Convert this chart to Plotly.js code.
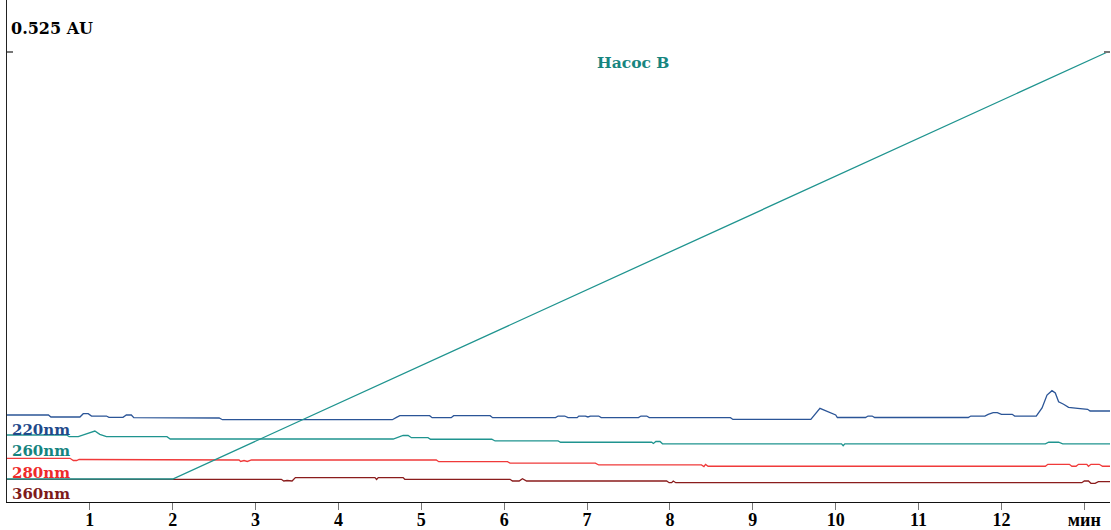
<!DOCTYPE html>
<html>
<head>
<meta charset="utf-8">
<script src="https://cdn.plot.ly/plotly-3.0.1.min.js"></script>
<style>html,body{margin:0;padding:0;background:#fff;}#chart{width:1111px;height:530px;}</style>
</head>
<body>
<div id="chart"></div>
<script>
// ---- data (time in min, absorbance in AU) ----
const t220 = [0,0.5,0.53,0.88,0.92,0.98,1.02,1.2,1.23,1.4,1.44,1.5,1.53,2.56,2.6,4.65,4.7,4.74,5.1,5.13,5.36,5.39,5.83,5.86,6.62,6.65,6.73,6.77,6.88,6.9,6.98,7.01,7.04,7.14,7.17,7.62,7.65,7.72,7.75,8.73,8.76,9.7,9.81,9.9,10.0,10.02,10.36,10.39,10.44,10.47,11.6,11.63,11.8,11.84,11.9,11.95,12.0,12.13,12.16,12.42,12.49,12.55,12.61,12.65,12.69,12.75,12.81,12.92,13.04,13.07,13.31];
const a220 = [0.1015,0.1015,0.0992,0.0992,0.1030,0.1030,0.1003,0.1003,0.0988,0.0988,0.1015,0.1015,0.0984,0.0980,0.0960,0.0960,0.0988,0.1007,0.1007,0.0984,0.0984,0.1007,0.1007,0.0984,0.0984,0.1003,0.1003,0.0984,0.0984,0.1003,0.1003,0.0992,0.1003,0.1003,0.0984,0.0984,0.1003,0.1003,0.0984,0.0984,0.0963,0.0963,0.1093,0.1054,0.1015,0.0986,0.0986,0.1003,0.1003,0.0986,0.0986,0.1003,0.1003,0.1023,0.1042,0.1042,0.1023,0.1023,0.1003,0.1003,0.1097,0.1248,0.1299,0.1272,0.1170,0.1140,0.1105,0.1093,0.1082,0.1062,0.1062];

const t260 = [0,0.72,0.75,0.86,0.94,1.06,1.12,1.2,1.93,1.97,4.66,4.7,4.78,4.84,4.88,5.08,5.11,5.85,5.89,6.65,6.68,7.78,7.8,7.83,7.88,7.91,10.07,10.09,10.11,12.53,12.57,12.69,12.74,13.31];
const a260 = [0.0782,0.0782,0.0762,0.0762,0.0790,0.0828,0.0790,0.0762,0.0762,0.0735,0.0735,0.0750,0.0776,0.0776,0.0750,0.0750,0.0732,0.0732,0.0712,0.0712,0.0697,0.0697,0.0683,0.0706,0.0706,0.0679,0.0679,0.0657,0.0679,0.0679,0.0697,0.0697,0.0679,0.0679];

const t280 = [0,0.76,0.8,0.84,0.87,1.1,1.13,2.8,2.82,2.86,2.9,2.95,5.18,5.21,6.04,6.07,7.1,7.14,8.38,8.41,8.43,8.46,12.53,12.56,12.82,12.85,12.9,12.93,13.03,13.05,13.08,13.18,13.22,13.31];
const a280 = [0.0510,0.0510,0.0484,0.0484,0.0496,0.0496,0.0490,0.0490,0.0473,0.0484,0.0473,0.0490,0.0490,0.0470,0.0470,0.0453,0.0453,0.0432,0.0432,0.0414,0.0438,0.0417,0.0417,0.0440,0.0440,0.0417,0.0417,0.0440,0.0440,0.0417,0.0440,0.0440,0.0417,0.0417];

const t360 = [0,3.31,3.34,3.38,3.44,3.48,4.44,4.46,4.48,4.78,4.8,6.07,6.1,6.18,6.22,6.27,7.96,7.99,8.02,8.04,8.07,12.97,13.0,13.05,13.08,13.13,13.17,13.31];
const a360 = [0.0265,0.0265,0.0245,0.0251,0.0245,0.0284,0.0284,0.0263,0.0284,0.0284,0.0265,0.0265,0.0245,0.0245,0.0272,0.0245,0.0245,0.0225,0.0225,0.0245,0.0225,0.0225,0.0245,0.0245,0.0218,0.0218,0.0237,0.0237];

// Pump B gradient (%)
const tPumpB = [0, 2.0, 13.28];
const pumpB = [0, 0, 100];

const xTickVals = [1,2,3,4,5,6,7,8,9,10,11,12,13];
const xTickText = ['1','2','3','4','5','6','7','8','9','10','11','12','мин'];
const channelNames = ['220nm','260nm','280nm','360nm'];
const yTopLabel = '0.525 AU';
const pumpLabel = 'Насос B';

// ---- styling ----
const colors = {'220nm':'#2b5597','260nm':'#1f948f','280nm':'#f03a3a','360nm':'#8a1c1c'};
const labelColors = {'220nm':'#1f4a8a','260nm':'#16847f','280nm':'#ee2a2a','360nm':'#7e1a1a'};
const serif = 'Liberation Serif, Times New Roman, serif';
const wideSerif = 'DejaVu Serif, Liberation Serif, serif';

function line(x, y, c, name, yaxis){
  return {x:x, y:y, mode:'lines', type:'scatter', name:name, yaxis:yaxis||'y',
          line:{color:c, width:1.3, shape:'linear'}, hoverinfo:'skip'};
}
const traces = [
  line(t360, a360, colors['360nm'], '360nm'),
  line(t280, a280, colors['280nm'], '280nm'),
  line(t260, a260, colors['260nm'], '260nm'),
  line(t220, a220, colors['220nm'], '220nm'),
  line(tPumpB, pumpB, '#1f948f', pumpLabel, 'y2')
];

const annotations = [
  {xref:'paper', yref:'paper', x:0.002, y:(502-29)/502, xanchor:'left', yanchor:'middle', text:'<b>'+yTopLabel+'</b>', showarrow:false, font:{family:wideSerif, size:16, color:'#000'}},
  {xref:'x', yref:'paper', x:7.55, y:(502-62)/502, xanchor:'center', yanchor:'middle', text:'<b>'+pumpLabel+'</b>', showarrow:false, font:{family:wideSerif, size:15.5, color:'#17857f'}}
];
const labelPix = [430, 451, 473, 494];
channelNames.forEach((n,i)=>{
  annotations.push({xref:'paper', yref:'paper', x:0.003, y:(502-labelPix[i])/502, xanchor:'left', yanchor:'middle',
    text:'<b>'+n+'</b>', showarrow:false, font:{family:wideSerif, size:15, color:labelColors[n]}});
});

const layout = {
  width:1111, height:530,
  margin:{l:7, r:1, t:0, b:28, pad:0},
  paper_bgcolor:'#fff', plot_bgcolor:'#fff',
  showlegend:false, hovermode:false,
  xaxis:{range:[0,13.31], showgrid:false, zeroline:false, showline:true, linecolor:'#111', linewidth:1,
         tickmode:'array', tickvals:xTickVals, ticktext:xTickText, ticks:'outside', ticklen:7, tickcolor:'#777', tickwidth:1,
         ticklabelstandoff:-6,
         tickfont:{family:serif, size:18, color:'#000', weight:'bold'}, fixedrange:true},
  yaxis:{range:[0, 0.5857], showgrid:false, zeroline:false, showline:true, linecolor:'#222', linewidth:1.5,
         tickmode:'array', tickvals:[0.525], ticks:'inside', ticklen:6, tickcolor:'#777', tickwidth:1.5,
         showticklabels:false, fixedrange:true},
  yaxis2:{overlaying:'y', side:'right', range:[-5.386, 112.18], showgrid:false, zeroline:false, showline:false,
          tickmode:'array', tickvals:[100], ticks:'inside', ticklen:6, tickcolor:'#777', tickwidth:1.5,
          showticklabels:false, fixedrange:true},
  annotations:annotations
};

Plotly.newPlot('chart', traces, layout, {staticPlot:true, displayModeBar:false});
</script>
</body>
</html>
